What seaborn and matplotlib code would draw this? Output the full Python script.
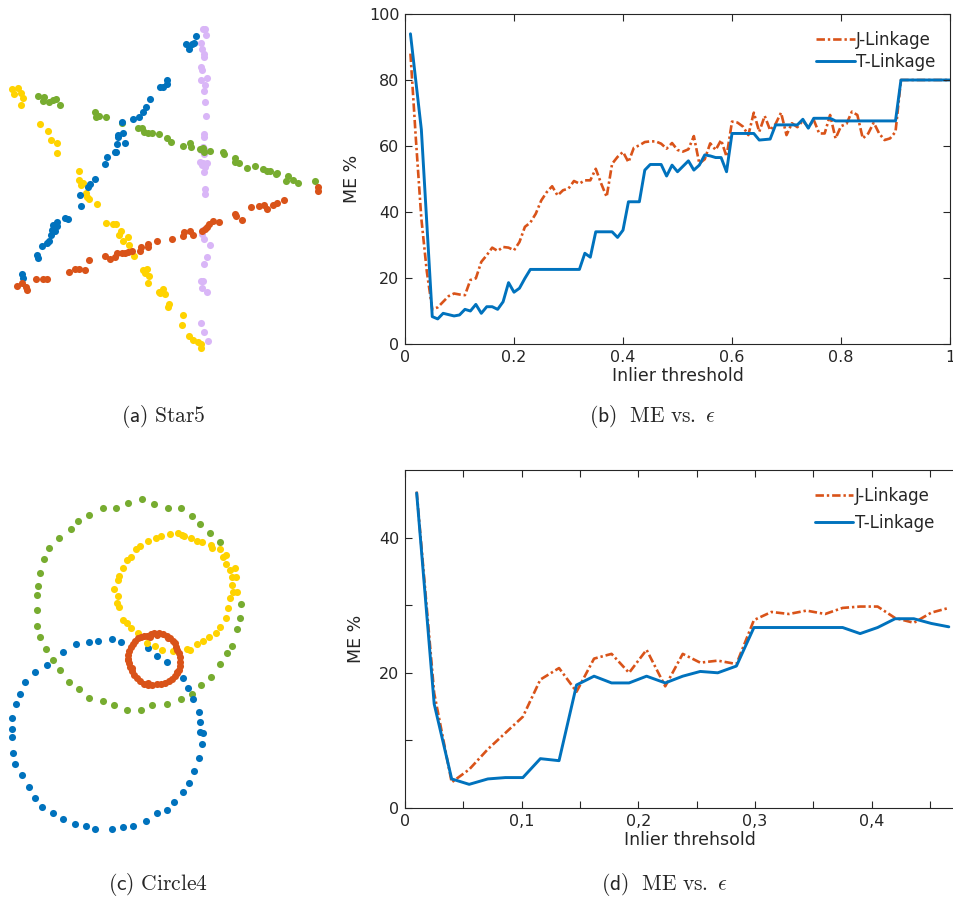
import matplotlib
matplotlib.use("Agg")
import matplotlib.pyplot as plt
import seaborn as sns

# -- colours ---------------------------------------------------------------
C_BLUE   = "#0072BD"
C_ORANGE = "#D95319"
C_YELLOW = "#FFD300"
C_GREEN  = "#77AC30"
C_LILAC  = "#D9B6F7"

# -- (a) Star5 point clusters (image units, y grows downward) ---------------
star_lilac_x = [615, 608, 617, 603, 605, 612, 613, 603, 605, 620, 604, 616, 613, 615, 619, 611, 612, 610, 602, 613,
                612, 600, 608, 620, 614, 606, 612, 615, 614, 610, 607, 611, 629, 621, 612, 609, 603, 606, 620, 603,
                613, 625]
star_lilac_y = [88, 88, 105, 130, 147, 162, 172, 202, 210, 233, 241, 256, 273, 305, 349, 402, 410, 440, 450, 448,
                462, 487, 490, 490, 500, 494, 516, 566, 583, 690, 703, 717, 736, 772, 793, 843, 843, 865, 876, 970,
                995, 1023]
star_blue_x = [588, 582, 557, 567, 575, 500, 502, 489, 479, 450, 438, 430, 416, 398, 365, 370, 355, 353, 376, 350,
               344, 348, 320, 316, 284, 270, 265, 240, 243, 196, 203, 170, 160, 172, 156, 165, 153, 148, 140, 127,
               110, 115, 67, 70]
star_blue_y = [107, 130, 133, 146, 133, 240, 252, 262, 262, 298, 322, 335, 352, 358, 367, 400, 405, 410, 430, 432,
               455, 455, 470, 493, 538, 553, 560, 585, 618, 653, 658, 667, 675, 677, 690, 692, 705, 722, 728, 738,
               765, 773, 822, 835]
star_green_x = [115, 132, 130, 146, 160, 168, 181, 285, 288, 298, 317, 365, 415, 425, 432, 445, 455, 478, 502, 512,
                548, 570, 572, 600, 608, 613, 630, 670, 673, 706, 705, 718, 740, 765, 790, 800, 810, 830, 828, 865,
                858, 880, 895, 945]
star_green_y = [288, 290, 303, 305, 300, 298, 316, 337, 350, 347, 350, 368, 385, 383, 396, 400, 400, 402, 413, 425,
                438, 430, 440, 448, 443, 455, 452, 455, 463, 473, 487, 490, 505, 497, 506, 512, 513, 520, 522, 528,
                543, 540, 548, 543]
star_orange_x = [955, 955, 853, 830, 818, 800, 792, 778, 752, 727, 708, 705, 656, 640, 627, 620, 615, 607, 580, 570,
                 550, 552, 515, 470, 445, 445, 422, 421, 395, 383, 375, 365, 350, 345, 330, 316, 267, 256, 237, 225,
                 206, 140, 130, 107, 80, 77, 66, 50]
star_orange_y = [560, 573, 600, 608, 615, 628, 616, 618, 622, 660, 648, 643, 665, 662, 672, 680, 688, 693, 705, 693,
                 708, 697, 716, 722, 733, 740, 740, 754, 752, 757, 758, 760, 760, 770, 776, 767, 780, 810, 808, 808,
                 815, 838, 838, 838, 870, 860, 850, 858]
star_yellow_x = [35, 55, 42, 63, 68, 64, 120, 145, 152, 172, 170, 236, 237, 242, 248, 258, 262, 268, 290, 318,
                 340, 348, 362, 356, 383, 370, 388, 402, 430, 440, 436, 447, 444, 478, 488, 480, 494, 508, 504, 548,
                 547, 567, 580, 595, 602, 604]
star_yellow_y = [268, 265, 282, 280, 295, 316, 373, 393, 420, 430, 458, 512, 540, 556, 550, 578, 590, 596, 612, 670,
                 673, 672, 692, 705, 712, 724, 735, 768, 810, 808, 820, 827, 850, 875, 868, 880, 882, 912, 922, 944,
                 975, 1008, 1020, 1025, 1032, 1045]

# -- (c) Circle4 point clusters ------------------------------------------------
circ_green_x = [425, 383, 348, 308, 268, 233, 212, 178, 148, 133, 120, 115, 112, 112, 112, 120, 138, 160, 180, 207,
                237, 268, 308, 343, 380, 423, 455, 502, 542, 575, 603, 632, 660, 680, 695, 712, 720, 722, 660, 630,
                600, 577, 543, 505, 463]
circ_green_y = [87, 100, 113, 113, 135, 153, 178, 205, 233, 268, 308, 348, 375, 420, 468, 500, 538, 570, 600, 635,
                658, 685, 693, 705, 720, 720, 705, 702, 688, 672, 645, 620, 583, 550, 528, 477, 445, 403, 217, 188,
                163, 137, 115, 113, 103]
circ_yellow_x = [535, 510, 483, 468, 443, 420, 407, 393, 380, 368, 358, 355, 342, 353, 352, 358, 370, 380, 392, 415,
                 442, 465, 485, 520, 560, 570, 592, 610, 628, 648, 660, 678, 685, 690, 700, 712, 697, 695, 708, 690,
                 705, 677, 670, 677, 660, 637, 632, 605, 590, 572, 553, 545]
circ_yellow_y = [188, 193, 198, 205, 213, 228, 238, 260, 270, 295, 318, 330, 357, 377, 398, 412, 450, 460, 475, 490,
                 520, 527, 540, 543, 538, 540, 522, 513, 502, 488, 470, 445, 415, 385, 365, 365, 345, 320, 320, 300,
                 293, 283, 262, 255, 238, 235, 225, 215, 213, 205, 197, 195]
circ_orange_x = [440, 452, 462, 478, 490, 500, 510, 518, 524, 528, 532, 537, 540, 541, 540, 537, 532, 525, 516, 506,
                 495, 483, 470, 457, 444, 432, 420, 410, 402, 395, 390, 386, 384, 385, 388, 392, 398, 405, 413, 422,
                 431, 449, 470, 505, 395, 445, 530, 385]
circ_orange_y = [497, 492, 490, 490, 493, 498, 505, 512, 520, 530, 540, 550, 562, 575, 588, 600, 610, 618, 626, 633,
                 638, 641, 643, 645, 645, 641, 634, 625, 615, 604, 592, 580, 567, 555, 543, 532, 522, 513, 505, 500,
                 498, 502, 495, 505, 595, 640, 605, 570]
circ_blue_x = [337, 295, 268, 228, 190, 140, 105, 75, 60, 47, 35, 35, 35, 38, 45, 65, 88, 105, 125, 160,
               190, 225, 258, 285, 335, 370, 400, 437, 470, 502, 522, 548, 568, 582, 597, 605, 610, 600, 600, 597,
               578, 565, 550, 502, 470, 443, 363]
circ_blue_y = [508, 512, 515, 523, 545, 585, 607, 635, 672, 702, 745, 777, 802, 850, 882, 915, 950, 983, 1012, 1028,
               1048, 1063, 1068, 1077, 1077, 1072, 1067, 1052, 1028, 1020, 995, 965, 938, 902, 863, 822, 790, 787, 757, 725,
               688, 655, 623, 575, 558, 535, 515]

# -- (b) ME vs inlier threshold, Star5 ---------------------------------------
b_jl_x = [0.01, 0.02, 0.03, 0.04, 0.05, 0.06, 0.07, 0.08, 0.09, 0.10,
          0.11, 0.12, 0.13, 0.14, 0.15, 0.16, 0.17, 0.18, 0.19, 0.20,
          0.21, 0.22, 0.23, 0.24, 0.25, 0.26, 0.27, 0.28, 0.29, 0.30,
          0.31, 0.32, 0.33, 0.34, 0.35, 0.36, 0.37, 0.38, 0.39, 0.40,
          0.41, 0.42, 0.43, 0.44, 0.45, 0.46, 0.47, 0.48, 0.49, 0.50,
          0.51, 0.52, 0.53, 0.54, 0.55, 0.56, 0.57, 0.58, 0.59, 0.60,
          0.61, 0.62, 0.63, 0.64, 0.65, 0.66, 0.67, 0.68, 0.69, 0.70,
          0.71, 0.72, 0.73, 0.74, 0.75, 0.76, 0.77, 0.78, 0.79, 0.80,
          0.81, 0.82, 0.83, 0.84, 0.85, 0.86, 0.87, 0.88, 0.89, 0.90,
          0.91, 1.00]
b_jl_y = [88, 62, 38, 22, 10.5, 11.1, 12.8, 14.5, 15.3, 15.0,
          14.8, 19.4, 19.9, 24.9, 26.9, 29.2, 28.2, 29.4, 29.2, 28.4,
          30.9, 35.5, 36.8, 39.5, 43.5, 46.0, 47.8, 45.0, 46.6, 47.1,
          49.4, 48.6, 49.6, 49.6, 53.1, 48.6, 44.6, 54.6, 56.7, 58.2,
          55.1, 59.5, 60.2, 61.2, 61.4, 61.4, 60.7, 59.2, 60.9, 58.8,
          58.3, 59.0, 63.0, 54.7, 56.0, 60.8, 58.8, 61.8, 56.8, 67.4,
          67.1, 65.9, 63.3, 70.1, 64.3, 69.1, 64.8, 66.7, 70.1, 63.3,
          66.9, 65.7, 67.7, 65.6, 67.9, 63.8, 63.8, 69.4, 62.3, 66.0,
          66.7, 70.4, 69.4, 62.3, 63.8, 67.1, 63.8, 61.8, 62.3, 64.3,
          80, 80]
b_tl_x = [0.01, 0.03, 0.05, 0.06, 0.07, 0.09, 0.10, 0.11, 0.12, 0.13,
          0.14, 0.15, 0.16, 0.17, 0.18, 0.19, 0.20, 0.21, 0.22, 0.23,
          0.32, 0.33, 0.34, 0.35, 0.38, 0.39, 0.40, 0.41, 0.43, 0.44,
          0.45, 0.47, 0.48, 0.49, 0.50, 0.52, 0.53, 0.54, 0.55, 0.56,
          0.57, 0.58, 0.59, 0.60, 0.64, 0.65, 0.67, 0.68, 0.72, 0.73,
          0.74, 0.75, 0.78, 0.79, 0.90, 0.91, 1.00]
b_tl_y = [94, 65, 8.3, 7.6, 9.3, 8.5, 8.8, 10.5, 10.0, 12.0,
          9.3, 11.3, 11.3, 10.5, 12.8, 18.6, 15.7, 16.9, 19.9, 22.6,
          22.6, 27.5, 26.3, 34.0, 34.0, 32.3, 34.5, 43.1, 43.1, 52.7,
          54.4, 54.4, 50.9, 54.2, 52.2, 55.5, 52.7, 54.2, 57.3, 57.0,
          56.5, 56.5, 52.2, 63.8, 63.8, 61.8, 62.1, 66.4, 66.4, 68.1,
          65.4, 68.4, 68.4, 67.6, 67.6, 80, 80]

# -- (d) ME vs inlier threshold, Circle4 -------------------------------------
d_x = [0.010, 0.025, 0.040, 0.055, 0.071, 0.086, 0.101, 0.116, 0.132, 0.147,
       0.162, 0.177, 0.192, 0.207, 0.223, 0.238, 0.253, 0.268, 0.284, 0.299,
       0.314, 0.329, 0.344, 0.360, 0.375, 0.390, 0.405, 0.420, 0.436, 0.451,
       0.466]
d_jl_y = [46.8, 17.0, 3.8, 5.7, 8.7, 11.1, 13.5, 19.0, 20.7, 17.2,
          22.1, 22.8, 20.0, 23.4, 18.0, 22.8, 21.5, 21.8, 21.3, 27.8,
          29.0, 28.7, 29.2, 28.7, 29.6, 29.8, 29.8, 28.1, 27.4, 28.9,
          29.6]
d_tl_y = [46.6, 15.4, 4.3, 3.5, 4.3, 4.5, 4.5, 7.3, 7.0, 18.2,
          19.5, 18.5, 18.5, 19.5, 18.5, 19.5, 20.2, 20.0, 21.0, 26.7,
          26.7, 26.7, 26.7, 26.7, 26.7, 25.8, 26.7, 28.0, 28.0, 27.3,
          26.8]

sns.set_theme(style="white")
plt.rcParams.update({
    "font.family": ["DejaVu Sans"],
    "mathtext.fontset": "cm",
    "axes.edgecolor": "#262626",
    "axes.linewidth": 0.8,
    # MATLAB-like box ticks, pointing inward on all four sides
    "xtick.color": "#262626",
    "ytick.color": "#262626",
    "xtick.direction": "in",
    "ytick.direction": "in",
    "xtick.bottom": True,
    "xtick.top": True,
    "ytick.left": True,
    "ytick.right": True,
    "xtick.major.size": 5,
    "ytick.major.size": 5,
    "xtick.major.width": 0.8,
    "ytick.major.width": 0.8,
    "xtick.major.pad": 4,
    "ytick.major.pad": 4,
    "xtick.labelsize": 11.5,
    "ytick.labelsize": 11.5,
})

W, H = 954, 898
fig = plt.figure(figsize=(W / 100, H / 100), dpi=100)


def px_axes(x0, y0, x1, y1):
    """Axes from pixel box (top-left origin)."""
    return fig.add_axes([x0 / W, 1 - y1 / H, (x1 - x0) / W, (y1 - y0) / H])


def scatter_panel(ax, clusters, xmax, ymax):
    for xs, ys, col in clusters:
        sns.scatterplot(x=xs, y=ys, color=col, s=26, linewidth=0, ax=ax)
    ax.set_xlim(0, xmax)
    ax.set_ylim(ymax, 0)
    ax.axis("off")


ax_a = px_axes(0, 0, 330, 360)
scatter_panel(ax_a, [
    (star_lilac_x, star_lilac_y, C_LILAC),
    (star_green_x, star_green_y, C_GREEN),
    (star_yellow_x, star_yellow_y, C_YELLOW),
    (star_blue_x, star_blue_y, C_BLUE),
    (star_orange_x, star_orange_y, C_ORANGE),
], 990, 1080)

ax_c = px_axes(0, 470, 260, 840)
scatter_panel(ax_c, [
    (circ_green_x, circ_green_y, C_GREEN),
    (circ_blue_x, circ_blue_y, C_BLUE),
    (circ_yellow_x, circ_yellow_y, C_YELLOW),
    (circ_orange_x, circ_orange_y, C_ORANGE),
], 780, 1110)

DASHDOT = (0, (3.2, 1.1, 0.9, 1.1))


def line_panel(ax, jx, jy, tx, ty):
    sns.lineplot(x=jx, y=jy, color=C_ORANGE, lw=1.9, linestyle=DASHDOT,
                 sort=False, estimator=None, label="J-Linkage", ax=ax)
    sns.lineplot(x=tx, y=ty, color=C_BLUE, lw=2.1,
                 sort=False, estimator=None, label="T-Linkage", ax=ax)
    for sp in ax.spines.values():
        sp.set_visible(True)
    ax.set_axisbelow(False)


# (b)
ax_b = px_axes(405, 14, 950, 344)
line_panel(ax_b, b_jl_x, b_jl_y, b_tl_x, b_tl_y)
ax_b.set_xlim(0, 1)
ax_b.set_ylim(0, 100)
ax_b.set_xticks([0, 0.2, 0.4, 0.6, 0.8, 1])
ax_b.set_xticklabels(["0", "0.2", "0.4", "0.6", "0.8", "1"])
ax_b.set_yticks([0, 20, 40, 60, 80, 100])
ax_b.tick_params(which="major", direction="in", bottom=True, top=True, left=True, right=True, length=5)
ax_b.set_xlabel("Inlier threshold", fontsize=12.5, labelpad=2)
ax_b.set_ylabel("ME %", fontsize=12.5, labelpad=6)
ax_b.legend(loc="upper right", bbox_to_anchor=(0.995, 0.985), frameon=False,
            fontsize=12, handlelength=2.3, handletextpad=0.1, labelspacing=0.25,
            borderaxespad=0.3)

# (d) -- runs off the right edge of the page
D_RIGHT = 975
ax_d = px_axes(405, 470, D_RIGHT, 808)
line_panel(ax_d, d_x, d_jl_y, d_x, d_tl_y)
ax_d.spines["right"].set_visible(False)
ax_d.set_xlim(0, (D_RIGHT - 405) / 1167)
ax_d.set_ylim(0, 50)
ax_d.set_xticks([0, 0.05, 0.1, 0.15, 0.2, 0.25, 0.3, 0.35, 0.4, 0.45])
ax_d.set_xticklabels(["0", "", "0,1", "", "0,2", "", "0,3", "", "0,4", ""])
ax_d.set_yticks([0, 10, 20, 30, 40])
ax_d.set_yticklabels(["0", "", "20", "", "40"])
ax_d.tick_params(which="major", direction="in", bottom=True, top=True, left=True, right=False, length=5)
ax_d.set_xlabel("Inlier threhsold", fontsize=12.5, labelpad=2)
ax_d.set_ylabel("ME %", fontsize=12.5, labelpad=10)
ax_d.legend(loc="upper right", bbox_to_anchor=((946 - 405) / (D_RIGHT - 405), 0.985), frameon=False,
            fontsize=12, handlelength=2.3, handletextpad=0.1, labelspacing=0.55,
            borderaxespad=0.3)

# -- captions -----------------------------------------------------------------
cap = dict(ha="center", va="center", fontsize=15.5)
fig.text(163 / W, 1 - 416 / H, r"$\mathsf{(a)}\ \mathrm{Star5}$", **cap)
fig.text(653 / W, 1 - 416 / H, r"$\mathsf{(b)}\ \ \mathrm{ME\ vs.}\ \epsilon$", **cap)
fig.text(158 / W, 1 - 884 / H, r"$\mathsf{(c)}\ \mathrm{Circle4}$", **cap)
fig.text(665 / W, 1 - 884 / H, r"$\mathsf{(d)}\ \ \mathrm{ME\ vs.}\ \epsilon$", **cap)

fig.savefig("out.png", dpi=100)
plt.close(fig)
